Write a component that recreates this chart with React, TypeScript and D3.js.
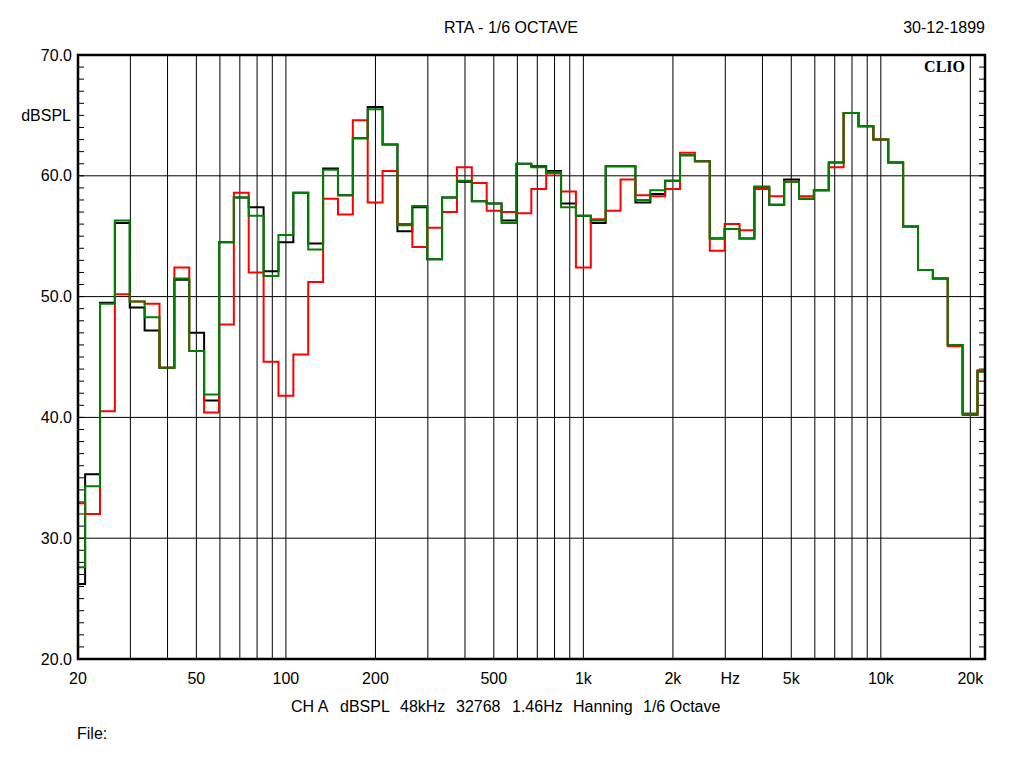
import * as d3 from 'd3'

// RTA 1/6 octave - three measurements overlaid
const W = 1024, H = 768
const M = { top: 55, right: 39, bottom: 109, left: 78 }
const IW = W - M.left - M.right
const IH = H - M.top - M.bottom

const F_MIN = 20, F_MAX = 22400

// 1/6 octave band centres (base-10, 20 bands per decade), 20 Hz .. 22.4 kHz
const BAND_CENTERS = d3.range(62).map((k) => 10 ** ((26 + k) / 20))

const BLACK = [
  26.2, 35.3, 49.5, 56.1, 49.1, 47.2, 44.1, 51.4, 47.0, 41.4,
  54.5, 58.2, 57.4, 52.1, 54.5, 58.6, 54.4, 60.6, 58.4, 63.1,
  65.7, 62.6, 55.4, 57.4, 53.1, 58.2, 59.5, 57.9, 57.7, 56.3,
  61.0, 60.8, 60.4, 57.7, 56.7, 56.1, 60.8, 60.8, 57.8, 58.5,
  59.6, 61.7, 61.2, 54.8, 55.6, 54.8, 59.1, 57.6, 59.7, 58.1,
  58.8, 61.1, 65.2, 64.1, 63.0, 61.1, 55.8, 52.2, 51.5, 46.0,
  40.3, 43.8,
]
const RED = [
  32.9, 32.0, 40.5, 50.2, 49.6, 49.4, 44.1, 52.4, 45.5, 40.4,
  47.7, 58.6, 52.0, 44.6, 41.8, 45.2, 51.2, 58.1, 56.8, 64.6,
  57.8, 60.4, 56.0, 54.1, 55.7, 57.0, 60.7, 59.4, 57.1, 57.0,
  56.9, 58.9, 60.2, 58.7, 52.4, 56.4, 57.1, 59.7, 58.4, 58.3,
  58.9, 61.9, 61.2, 53.8, 56.0, 55.5, 58.9, 58.3, 59.5, 58.3,
  58.8, 60.7, 65.2, 64.1, 63.0, 61.1, 55.8, 52.2, 51.5, 45.9,
  40.2, 43.9,
]
const GREEN = [
  27.6, 34.3, 49.4, 56.3, 49.6, 48.3, 44.1, 51.5, 45.5, 41.9,
  54.5, 58.2, 56.7, 51.7, 55.1, 58.6, 53.9, 60.5, 58.4, 63.1,
  65.5, 62.6, 55.9, 57.5, 53.1, 58.2, 59.6, 57.9, 57.7, 56.1,
  61.0, 60.7, 60.3, 57.4, 56.7, 56.3, 60.8, 60.8, 58.0, 58.8,
  59.6, 61.7, 61.2, 54.8, 55.6, 54.8, 59.1, 57.6, 59.5, 58.1,
  58.8, 61.1, 65.2, 64.1, 63.0, 61.1, 55.8, 52.2, 51.5, 46.0,
  40.3, 43.8,
]

const SERIES = [
  { name: 'black', color: '#000000', values: BLACK },
  { name: 'red', color: '#ff0000', values: RED },
  { name: 'green', color: '#008000', values: GREEN },
]

const Y_TICKS = [20, 30, 40, 50, 60, 70]
const X_LABELS: [number, string][] = [
  [20, '20'], [50, '50'], [100, '100'], [200, '200'], [500, '500'],
  [1000, '1k'], [2000, '2k'], [5000, '5k'], [10000, '10k'], [20000, '20k'],
]
const FOOTER = ['CH A', 'dBSPL', '48kHz', '32768', '1.46Hz', 'Hanning', '1/6 Octave']
const FOOTER_X = [291, 340, 400, 456, 512, 573, 643]

const FONT = '"Liberation Sans", Arial, sans-serif'

export default function App() {
  const x = d3.scaleLog().domain([F_MIN, F_MAX]).range([M.left, M.left + IW])
  const y = d3.scaleLinear().domain([20, 70]).range([M.top + IH, M.top])

  const grid = x.ticks().filter((f) => f > F_MIN && f < F_MAX)
  const minor = d3.range(21, 70)

  const half = 10 ** (1 / 40)
  const stepLine = d3.line<[number, number]>()
    .x((d) => x(d[0]))
    .y((d) => y(d[1]))
    .curve(d3.curveStepAfter)

  const pathFor = (vals: number[]) => {
    const pts: [number, number][] = BAND_CENTERS.map((c, i) => [Math.max(F_MIN, c / half), vals[i]])
    pts.push([F_MAX, vals[vals.length - 1]])
    return stepLine(pts) ?? ''
  }

  const x0 = M.left, x1 = M.left + IW, y0 = M.top, y1 = M.top + IH

  return (
    <svg width={W} height={H} style={{ position: 'absolute', left: 0, top: 0, background: '#fff' }}
      fontFamily={FONT} fontSize={16}>
      <rect x={0} y={0} width={W} height={H} fill="#fff" />

      {/* title + date */}
      <text x={511} y={33} textAnchor="middle">RTA - 1/6 OCTAVE</text>
      <text x={985} y={33} textAnchor="end">30-12-1899</text>

      {/* grid */}
      {grid.map((f) => (
        <line key={f} x1={x(f)} x2={x(f)} y1={y0} y2={y1} stroke="#000" strokeWidth={1} />
      ))}
      {Y_TICKS.slice(1, -1).map((v) => (
        <line key={v} x1={x0} x2={x1} y1={y(v)} y2={y(v)} stroke="#000" strokeWidth={1} />
      ))}

      {/* minor ticks inside left / right frame */}
      {minor.map((v) => (
        <g key={v}>
          <line x1={x0} x2={x0 + 6} y1={y(v)} y2={y(v)} stroke="#000" />
          <line x1={x1 - 6} x2={x1} y1={y(v)} y2={y(v)} stroke="#000" />
        </g>
      ))}

      {/* traces */}
      <g clipPath="url(#plotClip)">
        {SERIES.map((s) => (
          <path key={s.name} d={pathFor(s.values)} fill="none" stroke={s.color} strokeWidth={2} />
        ))}
      </g>
      <defs>
        <clipPath id="plotClip">
          <rect x={x0} y={y0} width={IW} height={IH} />
        </clipPath>
      </defs>

      {/* frame */}
      <rect x={x0} y={y0} width={IW} height={IH} fill="none" stroke="#000" strokeWidth={2.5} />

      {/* CLIO logo */}
      <text x={965} y={72} textAnchor="end" fontFamily='"Liberation Serif", "Times New Roman", serif'
        fontWeight="bold" fontSize={16}>CLIO</text>

      {/* y labels */}
      {Y_TICKS.map((v) => (
        <text key={v} x={72} y={y(v) + 5.5} textAnchor="end">{v.toFixed(1)}</text>
      ))}
      <text x={71} y={121} textAnchor="end">dBSPL</text>

      {/* x labels */}
      {X_LABELS.map(([f, t]) => (
        <text key={t} x={x(f)} y={684} textAnchor="middle">{t}</text>
      ))}
      <text x={x(3000) + 5} y={684} textAnchor="middle">Hz</text>

      {/* footer */}
      {FOOTER.map((t, i) => (
        <text key={t} x={FOOTER_X[i]} y={712}>{t}</text>
      ))}
      <text x={77} y={739}>File:</text>
    </svg>
  )
}
